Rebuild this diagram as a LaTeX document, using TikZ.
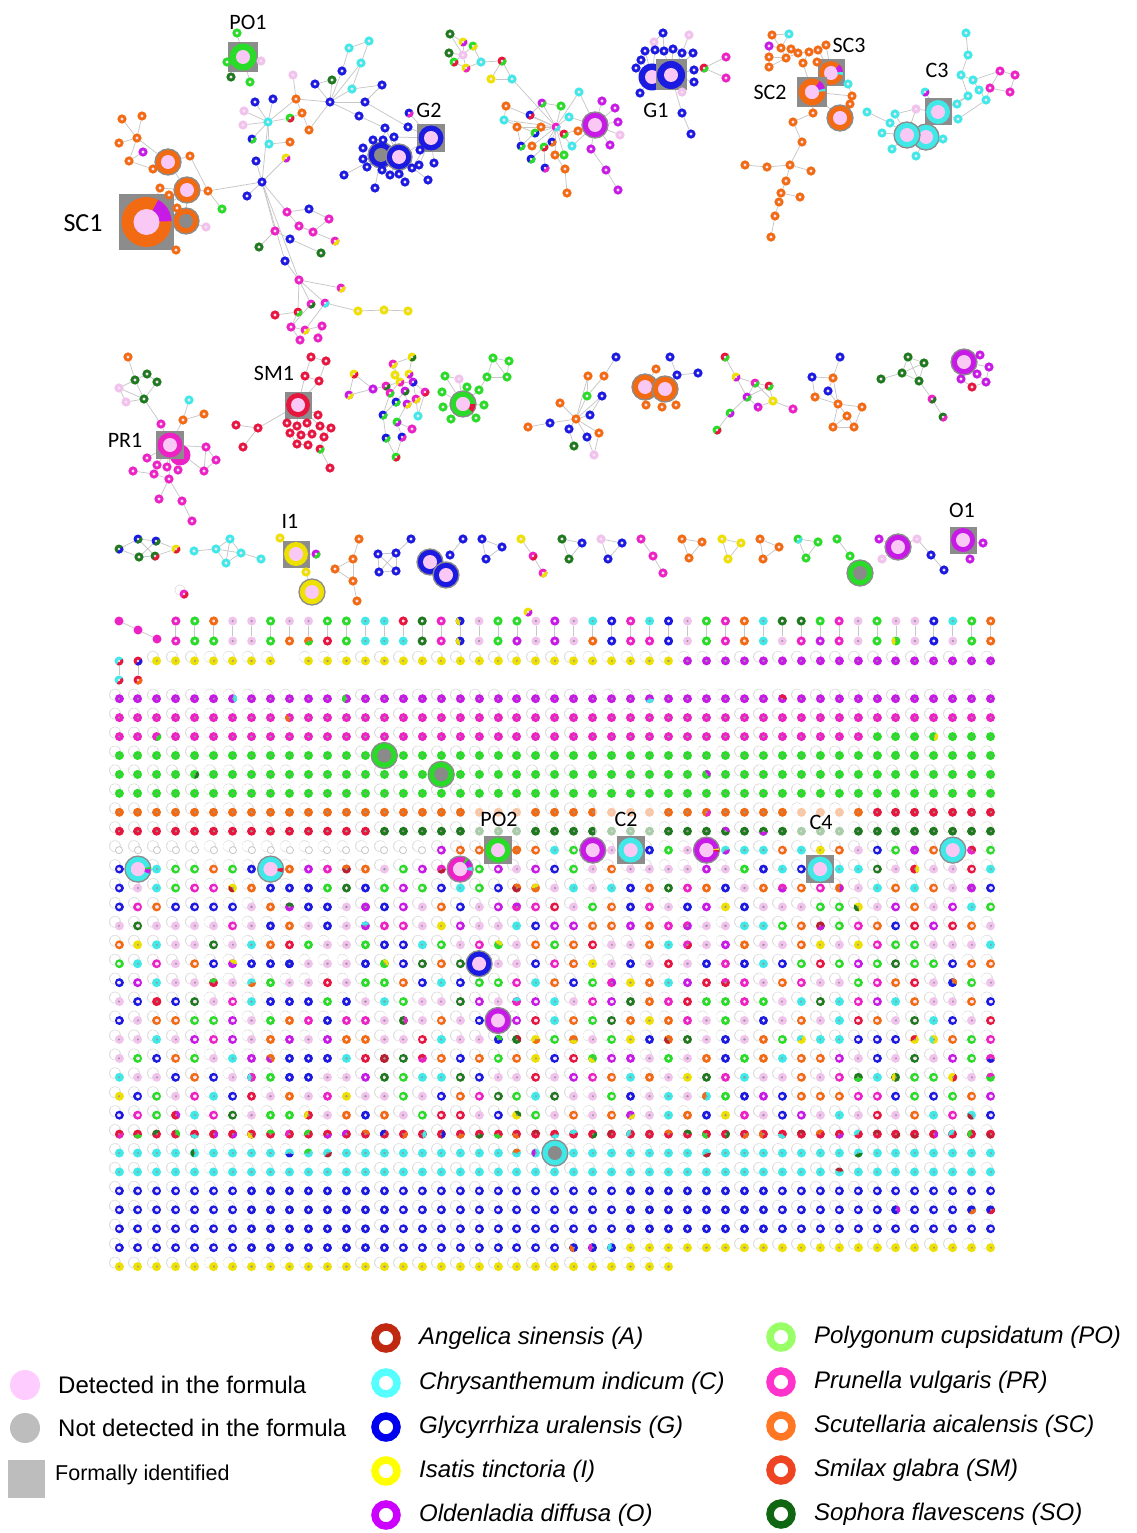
\documentclass[tikz,border=0pt]{standalone}
\usepackage{fontspec}
\setmainfont{Liberation Sans}
\newfontfamily\labfont{Carlito}
\pgfdeclarelayer{bg}
\pgfdeclarelayer{edges}
\pgfsetlayers{bg,edges,main}
\definecolor{cA}{HTML}{B82030}
\definecolor{cC}{HTML}{40E8E8}
\definecolor{cG}{HTML}{1A1AE0}
\definecolor{cI}{HTML}{EEE000}
\definecolor{cO}{HTML}{C81AE6}
\definecolor{cPO}{HTML}{28DC28}
\definecolor{cPR}{HTML}{EC22C4}
\definecolor{cSC}{HTML}{F26A12}
\definecolor{cSM}{HTML}{E6163E}
\definecolor{cSO}{HTML}{1F7A1F}
\definecolor{cPL}{HTML}{F0C2EC}
\definecolor{cCen}{HTML}{F9E2F6}
\definecolor{cPk}{HTML}{F9C8F4}
\definecolor{cGc}{HTML}{8A8A8A}
\definecolor{cSq}{HTML}{8C8C8C}
\definecolor{cLoop}{HTML}{DEDEDE}
\definecolor{cGd}{HTML}{999999}
\definecolor{lA}{HTML}{C0280F}
\definecolor{lC}{HTML}{55FFFF}
\definecolor{lG}{HTML}{0000EE}
\definecolor{lI}{HTML}{FFFF00}
\definecolor{lO}{HTML}{CC00FF}
\definecolor{lPO}{HTML}{99FF66}
\definecolor{lPR}{HTML}{FF33CC}
\definecolor{lSC}{HTML}{FF7722}
\definecolor{lSM}{HTML}{EE4422}
\definecolor{lSO}{HTML}{116611}
\definecolor{lPk}{HTML}{FFCCFF}
\definecolor{lGr}{HTML}{BDBDBD}
\tikzset{
 edge/.style={draw=black!22, line width=0.75},
 ringn/.style={circle, draw=#1, line width=2.8, fill=cCen, minimum size=6.2, inner sep=0},
 discn/.style={circle, fill=#1, minimum size=9, inner sep=0},
 bigst/.style={circle, fill=#1, draw=black!45, line width=1.3, minimum size=26, inner sep=0},
 lab/.style={inner sep=0, font=\labfont\fontsize{22}{26}\selectfont},
 gridlab/.style={fill=white, fill opacity=0.62, text opacity=1, minimum width=62, minimum height=34, inner sep=0, font=\labfont\fontsize{22}{26}\selectfont},
 legtext/.style={anchor=west, inner sep=0, font=\fontsize{24}{28}\selectfont},
 legit/.style={anchor=west, inner sep=0, font=\itshape\fontsize{24}{28}\selectfont},
 legring/.style={circle, draw=#1, line width=7.5, minimum size=22, inner sep=0},
}
% ---------- helpers ----------
\newcommand\randcol{\pgfmathrandominteger{\rnd}{1}{10}%
 \edef\gcb{\ifcase\rnd\or cG\or cPO\or cSC\or cPR\or cO\or cC\or cSM\or cSO\or cI\or cA\fi}%
 \pgfmathrandominteger{\ga}{0}{359}}
\newcommand\sorted[1]{\def\gk{1}\def\gcol{#1}\pgfmathrandominteger{\rnd}{1}{100}\ifnum\rnd<5 \def\gk{2}\randcol\fi}
\newcommand\sortedring[1]{\def\gk{0}\def\gcol{#1}\pgfmathrandominteger{\rnd}{1}{100}\ifnum\rnd<5 \def\gk{2}\randcol\fi}
\newcommand\sortedp[2]{\def\gk{1}\def\gcol{#1}\pgfmathrandominteger{\rnd}{1}{100}\ifnum\rnd<#2 \def\gk{2}\randcol\fi}
\newcommand\pickpie[1]{\def\gk{2}\def\gcol{#1}\randcol}
\newcommand\pickmix{\pgfmathrandominteger{\rmix}{1}{100}%
 \def\gk{2}\randcol\let\gcol\gcb\randcol
 \ifnum\rmix<93 \def\gk{1}\def\gcol{cI}\fi
 \ifnum\rmix<91 \def\gk{0}\def\gcol{cSO}\fi
 \ifnum\rmix<87 \def\gk{0}\def\gcol{cSM}\fi
 \ifnum\rmix<83 \def\gk{1}\def\gcol{cC}\fi
 \ifnum\rmix<74 \def\gk{0}\def\gcol{cO}\fi
 \ifnum\rmix<66 \def\gk{0}\def\gcol{cPR}\fi
 \ifnum\rmix<58 \def\gk{0}\def\gcol{cSC}\fi
 \ifnum\rmix<47 \def\gk{0}\def\gcol{cPO}\fi
 \ifnum\rmix<36 \def\gk{0}\def\gcol{cG}\fi
 \ifnum\rmix<24 \def\gk{1}\def\gcol{cPL}\fi}
\newcommand\cellrule{%
 \def\gk{9}%
 \ifnum\gr=-2
   \ifnum\gc<2 \else
     \ifnum\gc=9 \else
       \ifnum\gc<30 \sorted{cI}\else\sorted{cO}\fi
     \fi
   \fi
 \fi
 \ifnum\gr=0 \sorted{cO}\fi
 \ifnum\gr=1 \sorted{cPR}\fi
 \ifnum\gr=2 \ifnum\gc<40 \sorted{cPR}\else\sorted{cPO}\fi\fi
 \ifnum\gr>2 \ifnum\gr<6 \sorted{cPO}\fi\fi
 \ifnum\gr=6 \ifnum\gc<40 \sorted{cSC}\else\sorted{cSM}\fi\fi
 \ifnum\gr=7 \ifnum\gc<14 \sorted{cSM}\else\sorted{cSO}\fi\fi
 \ifnum\gr=8 \ifnum\gc<17 \def\gk{3}\else\pickmix\fi\fi
 \ifnum\gr>8 \ifnum\gr<23 \pickmix\fi\fi
 \ifnum\gr=23 \pickpie{cSM}\fi
 \ifnum\gr=24 \sortedp{cC}{25}\fi
 \ifnum\gr=25 \sortedp{cC}{10}\fi
 \ifnum\gr>25 \ifnum\gr<29 \sortedring{cG}\fi\fi
 \ifnum\gr=29 \ifnum\gc<24 \sortedring{cG}\else\ifnum\gc<27 \pickpie{cG}\else\sorted{cI}\fi\fi\fi
 \ifnum\gr=30 \ifnum\gc<30 \sorted{cI}\fi\fi}
% grid cell drawn as dots (round caps)
\newcommand\gcell[4]{%
 \draw[line width=11.8, draw=cLoop] ({#1-4},{#2-4}) -- ++(0,0.01);
 \draw[line width=10.6, draw=white] ({#1-4},{#2-4}) -- ++(0,0.01);
 \ifnum#3=3
   \draw[line width=8, draw=black!22] (#1,#2) -- ++(0,0.01);
   \draw[line width=6, draw=white] (#1,#2) -- ++(0,0.01);
 \else
   \draw[line width=9, draw=#4] (#1,#2) -- ++(0,0.01);
   \ifnum#3=2 \fill[\gcb] (#1,#2) -- ++(\ga:4.5) arc[start angle=\ga, delta angle=140, radius=4.5] -- cycle;\fi
   \ifnum#3=0 \draw[line width=3.6, draw=cCen] (#1,#2) -- ++(0,0.01);
   \else \draw[line width=2.4, draw=cGd] (#1,#2) -- ++(0,0.01);\fi
 \fi}
\newcommand\pnode[3]{%
 \ifnum\gk=0 \node[ringn=\gcol] (#1) at (#2,#3) {};\fi
 \ifnum\gk=1 \node[discn=\gcol] (#1) at (#2,#3) {}; \fill[cGd] (#2,#3) circle (1.2);\fi
 \ifnum\gk=2 \node[discn=\gcol] (#1) at (#2,#3) {};
   \fill[\gcb] (#2,#3) -- ++(\ga:4.5) arc[start angle=\ga, delta angle=140, radius=4.5] -- cycle;
   \fill[cGd] (#2,#3) circle (1.2);\fi}
\newcommand\mkrings[1]{\foreach \n/\x/\y/\cl in {#1}{\node[ringn=\cl] (\n) at (\x,\y) {};}}
\newcommand\mkpies[1]{\foreach \n/\x/\y/\cl/\cm in {#1}{\node[discn=\cl] (\n) at (\x,\y) {};
  \fill[\cm] (\x,\y) -- ++(-30:4.5) arc[start angle=-30,delta angle=150,radius=4.5] -- cycle;
  \fill[cCen] (\x,\y) circle (1.4);}}
\newcommand\mkedges[1]{\begin{pgfonlayer}{edges}\foreach \u/\v in {#1}{\draw[edge] (\u) -- (\v);}\end{pgfonlayer}}
\newcommand\bignode[4]{\node[bigst=#3] (#1) at #2 {}; \fill[#4] (#1.center) circle (7);}
\newcommand\sqnode[5]{\node[fill=cSq, minimum size=#3, inner sep=0] (#1s) at #2 {};
  \node[circle, fill=#4, minimum size={#3-3}, inner sep=0] (#1) at #2 {};
  \fill[#5] (#1.center) circle (7);}
\newcommand\mkwedge[5]{\fill[#5] (#1.center) -- ++(#3:#2) arc[start angle=#3, end angle=#4, radius=#2] -- cycle;}
\begin{document}
\begin{tikzpicture}[x=1pt,y=-1pt,line cap=round]
\begin{pgfonlayer}{bg}\fill[white] (0,0) rectangle (1136,1533);\end{pgfonlayer}
\useasboundingbox (0,0) rectangle (1136,1533);
% ================= GRID =================
\pgfmathsetseed{4242}
\foreach \gr in {-2,...,30}{
 \foreach \gc in {0,...,46}{
  \cellrule
  \ifnum\gk<9
   \pgfmathsetmacro\gx{119+18.95*\gc}
   \pgfmathsetmacro\gy{698.7+18.93*(\gr)}
   \gcell{\gx}{\gy}{\gk}{\gcol}\fi
 }}
\foreach \gc in {3,...,46}{
  \pgfmathsetmacro\gx{119+18.95*\gc}
  \pickmix
  \pnode{gt\gc}{\gx}{621}
  \pgfmathrandominteger{\rkeep}{1}{100}
  \ifnum\rkeep>55 \pickmix\fi
  \pnode{gb\gc}{\gx}{641}
  \begin{pgfonlayer}{edges}\draw[edge] (gt\gc) -- (gb\gc);\end{pgfonlayer}
}
\node[discn=cPR] (gd1) at (119,621) {};
\node[discn=cPR] (gd2) at (138,630) {};
\node[discn=cPR] (gd3) at (157,639) {};
\mkpies{gp1/119/661/cC/cSM, gp2/138/661/cSM/cG, gp3/119/680/cC/cSM, gp4/138/680/cSM/cSC}
\mkedges{gd1/gd2, gd2/gd3, gp1/gp3, gp2/gp4}
% grid big nodes
\bignode{bgA}{(384.3,755.5)}{cPO}{cGc}
\bignode{bgB}{(441.15,774.4)}{cPO}{cGc}
\bignode{bgC}{(460.1,869.1)}{cPR}{cPk}
\mkwedge{bgC}{12.4}{-50}{-20}{cO}\mkwedge{bgC}{12.4}{-62}{-50}{cPO}\mkwedge{bgC}{12.4}{-10}{8}{cC}
\fill[cPk] (bgC.center) circle (7);
\bignode{bgD}{(592.75,850.1)}{cO}{cPk}
\bignode{bgE}{(706.45,850.1)}{cO}{cPk}
\mkwedge{bgE}{12.4}{-8}{0}{cI}\mkwedge{bgE}{12.4}{0}{8}{cSM}
\fill[cPk] (bgE.center) circle (7);
\bignode{bgF}{(952.8,850.1)}{cC}{cPk}
\bignode{bgG}{(137.95,869.1)}{cC}{cPk}
\mkwedge{bgG}{12.4}{0}{22}{cO}\mkwedge{bgG}{12.4}{-10}{0}{cPO}
\fill[cPk] (bgG.center) circle (7);
\bignode{bgH}{(270.6,869.1)}{cC}{cPk}
\mkwedge{bgH}{12.4}{-5}{15}{cSM}
\fill[cPk] (bgH.center) circle (7);
\bignode{bgI}{(479.05,963.7)}{cG}{cPk}
\bignode{bgJ}{(498,1020.5)}{cO}{cPk}
\bignode{bgK}{(554.85,1153)}{cC}{cGc}
\sqnode{PO2}{(498,850.1)}{28}{cPO}{cPk}
\sqnode{C2}{(630.65,850.1)}{28}{cC}{cPk}
\sqnode{C4}{(820.15,869.1)}{28}{cC}{cPk}
\node[gridlab] (lbPO2) at (499,819) {PO2};
\node[gridlab] (lbC2) at (626,819) {C2};
\node[gridlab] (lbC4) at (821,822) {C4};
% ================= CLUSTER A (top left) =================
\node[fill=cSq, minimum size=55, inner sep=0] (SC1s) at (146.5,222) {};
\node[circle, fill=cSC, minimum size=50, inner sep=0] (SC1) at (146.5,222) {};
\mkwedge{SC1}{25}{-62}{-2}{cO}
\fill[cPk] (SC1.center) circle (13);
\bignode{b1}{(168,162)}{cSC}{cPk}
\bignode{b2}{(187,190)}{cSC}{cPk}
\bignode{b3}{(186,221)}{cSC}{cGc}
\sqnode{PO1}{(243,57)}{30}{cPO}{cPk}
\bignode{g1}{(381,155)}{cG}{cGc}
\bignode{g2}{(399,157)}{cG}{cPk}
\sqnode{G2}{(431,138)}{28}{cG}{cPk}
\mkrings{a1/262/182/cG, a2/268/122/cC, a3/330/102/cG, a4/296/99/cSC, a5/273/99/cG, a6/255/102/cG, a7/244/111/cPL, a8/243/125/cPL, a10/269/144/cC, a11/290/142/cSC, a13/256/161/cG, a15/302/113/cSC, a16/309/130/cSC, a17/293/75/cPL, a18/315/84/cG, a19/332/80/cSO, a20/342/71/cG, a21/349/48/cC, a22/369/41/cC, a23/361/63/cC, a24/352/89/cC, a25/382/85/cG, a26/365/102/cG, a27/359/116/cG, a28/385/128/cG, a29/408/127/cG, a31/247/196/cG, a32/208/191/cSC, a33/222/209/cPO, a34/206/227/cPL, a35/176/250/cSC, a36/122/119/cSC, a37/142/116/cSC, a38/137/138/cSC, a39/119/143/cSC, a40/143/152/cO, a41/129/161/cSC, a42/153/169/cSC, a43/190/156/cSC, a44/160/188/cSC, a45/169/195/cSC, a49/177/208/cSC, a50/287/212/cPR, a51/309/209/cG, a52/299/226/cPR, a53/313/232/cPR, a54/329/219/cPR, a55/275/231/cPR, a56/290/239/cG, a58/259/247/cSO, a59/321/253/cSO, a60/285/261/cG, a61/299/280/cPR, a66/275/315/cSM, a67/358/311/cI, a68/384/310/cI, a69/408/311/cI, a70/291/327/cPR, a72/322/326/cPR, a73/300/340/cPR, a74/318/338/cPR,
 p1/237/33/cPO, p2/227/62/cPO, p3/231/77/cSO, p4/250/82/cPO, p5/261/61/cPL,
 q1/373/140/cG, q2/363/148/cG, q3/363/159/cG, q4/367/167/cG, q5/344/175/cG, q6/375/188/cG, q7/382/170/cG, q8/390/175/cG, q9/399/174/cG, q10/405/182/cG, q11/412/168/cG, q12/419/165/cG, q13/428/180/cG, q14/434/163/cG, q15/420/150/cG, q16/394/137/cG, q17/383/140/cG}
\mkpies{a9/252/139/cG/cPO, a12/286/158/cI/cO, a14/290/118/cPO/cSM, a30/409/113/cG/cPR, a57/335/241/cPR/cI, a62/341/288/cPR/cI, a63/325/303/cPR/cC, a64/311/304/cPR/cSO, a65/298/312/cSM/cPO, a71/305/330/cPR/cI}
\mkedges{a1/a2, a1/a12, a1/a13, a1/a31, a1/a32, a1/a50, a1/a55, a1/a60, a1/a61, a2/a5, a2/a6, a2/a7, a2/a8, a2/a9, a2/a10, a2/a14, a2/a4, a4/a3, a4/a17, a4/a15, a15/a16, a14/a15, a10/a11, a3/a18, a3/a19, a3/a20, a3/a23, a3/a24, a3/a26, a3/a27, a3/a16, a20/a21, a21/a22, a22/a23, a23/a24, a24/a25, a25/a26, a26/a29, a27/a28, a28/g1, a29/G2, a30/G2, a18/a19, p1/PO1, p2/PO1, p3/PO1, p4/PO1, p5/PO1, a32/b2, a32/a33, a32/a43, a36/a38, a37/a38, a39/a38, a38/a41, a38/b1, a40/a41, a41/a42, a42/b1, a43/b1, a44/b2, a45/b2, a49/b3, a35/SC1, a34/b3, a44/SC1, b2/b3, b3/SC1, b1/b2, b2/SC1, a50/a51, a50/a52, a51/a54, a52/a53, a52/a57, a53/a54, a55/a58, a55/a56, a56/a59, a60/a61, a61/a62, a61/a63, a61/a64, a61/a65, a65/a66, a63/a67, a67/a68, a68/a69, a64/a70, a70/a71, a71/a72, a72/a74, a70/a73, a65/a70, a63/a71, q1/g1, q2/g1, q3/g1, q4/g1, q5/g1, q6/g1, q7/g1, q8/g2, q9/g2, q10/g2, q11/g2, q12/G2, q13/g2, q14/G2, q15/G2, q16/g2, q17/g1, g1/g2, g2/G2, q16/G2, q11/G2, a28/g2}
% ================= CLUSTER B (top centre) =================
\bignode{ob1}{(595,125)}{cO}{cPk}
\mkrings{c1/450/34/cSO, c2/449/53/cSO, c5/463/55/cPL, c8/481/62/cC, c10/491/79/cI, c11/512/79/cC, c12/506/106/cSC, c13/504/120/cC, c14/517/127/cSC, c17/561/106/cPO, c18/541/127/cSC, c21/579/92/cC, c22/569/117/cC, c23/578/131/cSC, c26/532/146/cSC, c29/555/155/cSC, c30/564/155/cPO, c31/572/146/cC, c34/565/169/cSC, c35/567/193/cSC, c36/602/101/cO, c37/615/108/cO, c38/618/122/cO, c39/620/135/cPL, c40/610/145/cO, c41/591/149/cO, c42/606/170/cO, c43/618/190/cO}
\mkpies{c3/463/42/cI/cO, c4/473/46/cPO/cI, c6/454/62/cPO/cSM, c7/466/68/cI/cPR, c9/502/61/cSM/cPO, c15/530/115/cG/cSM, c16/542/103/cO/cPO, c19/556/127/cPR/cC, c20/564/134/cSM/cPO, c24/535/133/cPO/cG, c25/521/146/cG/cPO, c27/544/147/cPO/cSM, c28/552/142/cG/cSC, c32/531/159/cG/cPO, c33/545/168/cG/cPR}
\mkedges{c1/c3, c1/c5, c2/c5, c2/c6, c3/c4, c3/c5, c4/c5, c4/c8, c5/c6, c5/c7, c6/c7, c7/c8, c8/c9, c9/c10, c9/c11, c10/c11, c11/c19, c12/c19, c13/c19, c14/c19, c15/c19, c16/c19, c17/c19, c18/c19, c20/c19, c21/c19, c22/c19, c24/c19, c25/c18, c26/c19, c27/c19, c28/c19, c29/c19, c30/c19, c31/c19, c32/c27, c33/c27, c34/c29, c35/c34, c12/c13, c14/c25, c16/c17, c20/ob1, c22/ob1, c23/ob1, c31/ob1, c21/ob1, ob1/c36, ob1/c37, ob1/c38, ob1/c39, ob1/c40, ob1/c41, c41/c42, c42/c43, c13/c24, c15/c16}
% ================= CLUSTER G1 =================
\node[circle, fill=cG, minimum size=27, inner sep=0] (gl) at (652,77) {};
\fill[cPk] (gl.center) circle (7);
\sqnode{G1}{(671,75)}{31}{cG}{cPk}
\mkrings{d1/663/33/cG, d2/689/35/cPL, d3/654/42/cPL, d4/645/51/cG, d5/655/50/cG, d6/664/51/cG, d7/673/49/cG, d8/682/53/cG, d9/641/60/cG, d10/693/53/cG, d11/636/68/cG, d12/694/70/cG, d14/726/57/cPR, d15/726/78/cPR, d16/694/82/cG, d17/640/93/cG, d18/682/92/cPL, d19/682/113/cG, d20/691/134/cG}
\mkpies{d13/704/68/cSM/cPO}
\mkedges{d1/d6, d1/d3, d2/d8, d3/d5, d4/gl, d5/gl, d6/G1, d7/G1, d8/G1, d9/gl, d10/G1, d11/gl, d12/G1, d13/G1, d13/d14, d13/d15, d16/G1, d17/gl, d18/G1, d19/G1, d19/d20, d4/d9, gl/G1, d7/d10}
% ================= CLUSTER SC2/SC3 =================
\sqnode{SC3}{(831,73)}{27}{cSC}{cPk}
\mkwedge{SC3}{12}{-45}{-5}{cO}\mkwedge{SC3}{12}{-5}{10}{cC}
\fill[cPk] (SC3.center) circle (6.5);
\sqnode{SC2}{(812,92)}{30}{cSC}{cPk}
\mkwedge{SC2}{13.5}{-55}{-15}{cO}\mkwedge{SC2}{13.5}{-15}{-3}{cC}
\fill[cPk] (SC2.center) circle (7);
\bignode{sbig}{(840,118)}{cSC}{cPk}
\mkrings{e1/772/35/cSC, e2/789/34/cC, e3/769/46/cO, e4/781/48/cSC, e5/791/49/cSC, e6/769/57/cSC, e7/786/58/cSC, e8/798/53/cSC, e9/809/52/cSC, e10/818/50/cSC, e11/826/45/cSC, e12/769/67/cSC, e13/803/63/cSC, e14/817/62/cSC, e15/848/84/cC, e16/852/96/cSC, e17/850/104/cSC, e18/813/113/cSC, e19/793/122/cSC, e20/802/142/cSC, e21/745/165/cSC, e22/767/167/cSC, e23/790/165/cSC, e24/811/171/cSC, e25/786/181/cSC, e26/781/193/cSC, e27/800/197/cSC, e28/779/202/cSC, e29/775/216/cSC, e30/771/237/cSC}
\mkedges{e1/e4, e2/e4, e3/e4, e4/e7, e5/e7, e6/e7, e3/e6, e7/e8, e8/e9, e9/e10, e10/e11, e12/e7, e13/SC2, e13/e9, e14/SC3, e11/SC3, SC3/SC2, SC3/e15, e15/e16, SC2/e16, e16/e17, e17/sbig, SC2/sbig, SC2/e18, e18/e19, e19/e20, e20/e23, e21/e22, e22/e23, e23/e24, e23/e25, e25/e26, e26/e27, e26/e28, e28/e29, e29/e30, SC3/e10, e6/e12, e1/e2}
% ================= CLUSTER C3 =================
\bignode{cb2}{(926,137)}{cC}{cPk}
\bignode{cb1}{(907,135)}{cC}{cPk}
\sqnode{C3}{(938,112)}{27}{cC}{cPk}
\mkrings{f1/966/33/cC, f2/968/55/cC, f3/961/75/cC, f4/973/80/cC, f6/986/100/cC, f7/968/96/cC, f8/957/104/cC, f9/958/119/cC, f10/979/90/cC, f12/916/109/cPL, f13/890/123/cC, f14/895/114/cC, f15/882/133/cC, f16/867/112/cC, f17/892/149/cC, f18/916/156/cC, f19/943/139/cC, f20/1000/71/cPR, f21/1015/75/cPR, f22/990/88/cPR, f23/1010/92/cPR}
\mkpies{f11/925/92/cC/cO}
\mkedges{f1/f2, f2/f3, f3/f4, f3/f7, f4/f10, f10/f6, f4/f20, f7/f8, f7/C3, f8/C3, f9/C3, f6/f9, f20/f21, f20/f22, f21/f23, f22/f23, f6/f22, f11/C3, f12/C3, f12/cb1, f13/cb1, f14/cb1, f15/cb1, f16/f13, f17/cb1, f18/cb2, f19/cb2, cb1/cb2, cb2/C3, f14/f12}
% ================= ROW 2 =================
\mkrings{h1/128/357/cSC, h2/119/388/cPL, h3/135/380/cSO, h4/147/374/cSO, h5/157/382/cSO, h6/144/399/cSO, h7/126/402/cPL}
\mkedges{h1/h3, h2/h3, h2/h6, h3/h4, h3/h6, h4/h5, h5/h6, h7/h6, h2/h7}
\node[circle, fill=cPR, minimum size=21, inner sep=0] (pbig) at (180,455) {};
\sqnode{PR1}{(170,445)}{28}{cPR}{cPk}
\mkrings{r1/161/424/cPR, r2/183/420/cSC, r3/189/400/cC, r4/204/414/cSC, r5/206/447/cPR, r6/216/460/cPR, r7/204/471/cPR, r8/147/458/cPR, r9/157/465/cPR, r10/133/471/cPR, r11/154/474/cPR, r12/167/467/cPR, r13/178/470/cPR, r14/169/479/cPR, r15/159/499/cPR, r16/182/501/cPR, r17/192/521/cPR}
\mkedges{h6/r1, r1/PR1, r2/r3, r2/r4, r2/PR1, r5/PR1, r6/r5, r7/r5, r7/PR1, r8/PR1, r9/PR1, r10/r11, r11/r14, r12/PR1, r13/PR1, r14/PR1, r14/r15, r14/r16, r16/r17, r9/r11, r6/r7}
\sqnode{SM1}{(298,405)}{27}{cSM}{cPk}
\mkrings{m1/311/357/cSM, m2/326/361/cSM, m3/305/376/cSM, m4/319/381/cSM, m5/287/423/cSM, m6/297/426/cSM, m7/307/423/cSM, m8/318/415/cSM, m9/320/426/cSM, m10/290/433/cSM, m11/301/435/cSM, m12/312/434/cSM, m13/324/437/cSM, m14/297/444/cSM, m15/308/445/cSM, m16/331/428/cSM, m18/330/468/cSM, m19/258/428/cSM, m20/236/425/cSM, m21/243/447/cSM}
\mkpies{m17/320/449/cSM/cPO}
\mkedges{m1/m3, m2/m4, m1/m2, m3/m4, m3/SM1, m4/SM1, m5/SM1, m6/SM1, m7/SM1, m8/SM1, m9/SM1, m10/m6, m11/m6, m12/m7, m13/m9, m14/m11, m15/m12, m16/m9, m17/m13, m17/m18, m19/SM1, m20/m19, m21/m19, m11/m12, m10/m14, m13/m16, m15/m14}
\mkpies{k1/412/357/cI/cSO, k2/393/364/cPR/cI, k4/409/374/cI/cO, k5/354/374/cI/cSM, k7/349/395/cO/cI, k8/386/386/cPR/cSO, k9/400/382/cI/cPR, k10/413/382/cO/cG, k11/390/393/cPR/cPO, k12/405/391/cO/cSO, k13/416/399/cPR/cI, k14/425/392/cPR/cSM, k15/396/402/cG/cPO, k16/407/404/cO/cI, k17/383/415/cG/cPO, k19/397/422/cPO/cO, k21/386/438/cG/cPO, k22/402/437/cG/cPR, k23/396/457/cPO/cSM}
\mkrings{k3/395/375/cI, k6/373/389/cO, k18/418/416/cC, k20/412/429/cPR}
\mkedges{k1/k2, k1/k4, k2/k3, k3/k9, k4/k10, k5/k7, k5/k6, k7/k6, k6/k8, k8/k9, k9/k10, k9/k11, k9/k12, k10/k13, k10/k14, k11/k15, k12/k16, k13/k18, k14/k18, k15/k17, k16/k19, k11/k17, k17/k21, k19/k20, k19/k22, k21/k23, k22/k23, k12/k15, k8/k11, k2/k9, k16/k13}
\bignode{GB}{(463,404)}{cPO}{cPk}
\mkwedge{GB}{12.4}{0}{40}{cSM}
\fill[cPk] (GB.center) circle (7);
\mkrings{l1/445/376/cPO, l2/459/379/cPL, l3/493/358/cPO, l4/509/361/cPO, l5/487/377/cPO, l6/507/377/cPO, l7/479/390/cPO, l8/467/387/cPO, l9/442/392/cPO, l10/484/405/cPO, l11/443/407/cPO, l12/451/419/cPO, l13/476/418/cPO}
\mkedges{l1/l2, l1/GB, l2/GB, l3/l4, l3/l5, l4/l6, l5/l6, l5/l7, l7/GB, l8/GB, l9/GB, l10/GB, l11/GB, l12/GB, l13/GB, l3/l6}
\mkrings{n1/616/357/cG, n2/588/376/cSC, n3/604/376/cSC, n4/587/396/cPO, n5/602/396/cG, n6/560/403/cSC, n7/576/419/cSC, n8/590/415/cG, n9/550/423/cG, n10/528/427/cSC, n11/569/429/cG, n12/587/437/cG, n13/599/433/cSC, n14/574/446/cSO, n15/594/455/cPL}
\mkedges{n1/n3, n2/n4, n3/n4, n4/n7, n5/n8, n6/n7, n7/n8, n7/n9, n9/n10, n7/n11, n7/n12, n7/n13, n11/n14, n12/n15, n13/n15, n2/n7, n5/n7}
\bignode{ob2}{(645,387)}{cSC}{cPk}
\bignode{ob3}{(665,389)}{cSC}{cPk}
\mkrings{o1/670/357/cG, o2/677/375/cG, o3/698/373/cG, o4/646/405/cSC, o5/662/407/cSC, o6/676/405/cSC, o7/656/369/cSC}
\mkedges{o1/o2, o2/ob3, o3/o2, o4/ob2, o5/ob3, o6/ob3, o7/ob2, ob2/ob3}
\mkpies{t1/725/357/cSM/cPO, t2/736/377/cI/cO, t3/755/383/cPR/cPO, t4/769/386/cSM/cPO, t5/747/397/cO/cPO, t7/758/407/cO/cPR, t9/730/413/cPO/cO, t10/717/430/cPO/cSM}
\mkrings{t6/773/401/cI, t8/793/409/cPR}
\mkedges{t1/t2, t2/t3, t2/t5, t3/t4, t3/t6, t4/t6, t5/t7, t5/t4, t6/t7, t6/t8, t5/t9, t9/t10, t3/t5}
\mkrings{u1/840/357/cG, u2/812/377/cG, u3/833/378/cSC, u4/828/391/cG, u5/815/397/cSC, u6/838/404/cSC, u7/862/407/cSC, u8/847/416/cSC, u9/833/427/cSC, u10/854/427/cSC}
\mkedges{u1/u3, u2/u3, u2/u5, u3/u4, u3/u6, u4/u6, u5/u6, u6/u7, u6/u8, u7/u10, u8/u10, u8/u9, u9/u10, u6/u9}
\mkrings{v1/908/357/cSO, v2/924/363/cSO, v3/881/379/cSO, v4/902/373/cSO, v5/919/381/cSO}
\mkpies{v6/932/399/cPR/cSO, v7/943/417/cSO/cPR}
\mkedges{v1/v2, v1/v4, v1/v5, v2/v5, v2/v4, v3/v4, v4/v5, v5/v6, v6/v7}
\bignode{ob4}{(964,362)}{cO}{cPk}
\mkrings{w1/980/355/cO, w2/989/367/cO, w3/977/374/cO, w4/986/382/cO, w5/972/387/cSM, w6/961/379/cO}
\mkedges{w1/ob4, w2/ob4, w3/ob4, w6/ob4, w2/w4, w3/w4, w4/w5, w5/w6}
% ================= ROW 3 =================
\mkpies{x1/119/549/cSO/cG, x2/138/539/cG/cSO, x3/156/541/cG/cSO, x5/155/556/cSO/cSM, x6/176/549/cI/cSM}
\mkrings{x4/139/557/cSO}
\mkedges{x1/x2, x1/x4, x2/x3, x2/x5, x4/x5, x3/x6, x5/x6, x3/x4}
\mkrings{y1/194/551/cC, y2/216/549/cC, y3/230/539/cC, y4/241/553/cC, y5/226/563/cC, y6/261/559/cC}
\mkedges{y1/y2, y2/y3, y2/y5, y3/y4, y3/y5, y4/y5, y4/y6, y2/y4}
\sqnode{I1}{(296,554)}{27}{cI}{cPk}
\bignode{Ibig}{(312,592)}{cI}{cPk}
\mkrings{z1/280/538/cI, z3/306/572/cI}
\mkpies{z2/316/554/cO/cPO}
\draw[black!14, line width=0.6] (180,590) circle (5.2);
\mkpies{z4/184/594/cPR/cSM}
\mkedges{z1/I1, z2/I1, z3/I1, z3/Ibig}
\mkrings{z5/359/539/cSC, z6/353/559/cSC, z7/335/569/cSC, z8/353/581/cSC, z9/357/601/cSC}
\mkedges{z5/z6, z6/z7, z6/z8, z7/z8, z8/z9}
\mkrings{z10/378/554/cG, z11/396/553/cG, z12/379/572/cG, z13/396/571/cG, z14/411/539/cG}
\mkedges{z10/z11, z10/z12, z11/z13, z12/z13, z10/z13, z11/z12, z11/z14}
\bignode{Gb1}{(430,562)}{cG}{cPk}
\bignode{Gb2}{(446,575)}{cG}{cPk}
\mkrings{z15/450/555/cG, z16/463/539/cG, z17/482/539/cG, z18/502/547/cG, z19/486/559/cG}
\mkedges{Gb1/Gb2, z15/z16, z17/z18, z18/z19, z17/z19}
\mkrings{z20/521/539/cI, z23/562/539/cSO, z24/582/543/cG, z25/569/559/cSO, z26/601/539/cPL, z27/622/543/cG, z28/608/559/cG, z29/641/539/cPR, z30/653/556/cPR, z31/663/573/cPR, z32/682/539/cSC, z33/702/542/cSC, z34/689/558/cSC, z35/722/539/cI, z36/741/543/cI, z37/728/559/cI, z38/760/539/cSC, z39/779/547/cSC, z40/763/559/cSC, z42/818/542/cPO, z43/806/558/cPO, z44/837/539/cPO, z45/850/556/cPO, z46/879/539/cO, z47/917/539/cPL, z48/882/559/cPL, z49/931/555/cG, z50/944/570/cG, z51/983/543/cO, z52/970/559/cO}
\mkpies{z21/533/556/cPR/cSM, z22/543/573/cPR/cI, z41/798/539/cPO/cC, z53/528/612/cI/cO}
\bignode{PObig}{(860,573)}{cPO}{cGc}
\bignode{Obig2}{(898,547)}{cO}{cPk}
\sqnode{O1}{(963,540)}{27}{cO}{cPk}
\mkedges{z20/z21, z21/z22, z23/z24, z23/z25, z24/z25, z26/z27, z26/z28, z27/z28, z29/z30, z30/z31, z32/z33, z32/z34, z33/z34, z35/z36, z35/z37, z36/z37, z38/z39, z38/z40, z39/z40, z41/z42, z41/z43, z42/z43, z44/z45, z45/PObig, z46/Obig2, z48/Obig2, z47/Obig2, z47/z49, z49/z50, z51/O1, z52/O1}
% ================= LABELS =================
\node[lab] (lbPO1) at (248,22) {PO1};
\node[lab] (lbG2) at (429,110) {G2};
\node[lab] (lbG1) at (656,110) {G1};
\node[lab] (lbSC3) at (849,45) {SC3};
\node[lab] (lbSC2) at (770,92) {SC2};
\node[lab] (lbC3) at (937,70) {C3};
\node[lab, font=\labfont\fontsize{26}{30}\selectfont] (lbSC1) at (83,223) {SC1};
\node[lab] (lbSM1) at (274,373) {SM1};
\node[lab] (lbPR1) at (125,440) {PR1};
\node[lab] (lbI1) at (290,521) {I1};
\node[lab] (lbO1) at (962,510) {O1};
% ================= LEGEND =================
\node[circle, fill=lPk, minimum size=30, inner sep=0] (lgD) at (25,1385) {};
\node[legtext] (lgDt) at (58,1385) {Detected in the formula};
\node[circle, fill=lGr, minimum size=30, inner sep=0] (lgN) at (25,1428) {};
\node[legtext] (lgNt) at (58,1428) {Not detected in the formula};
\node[fill=lGr, minimum width=37, minimum height=38, inner sep=0] (lgF) at (26.5,1479) {};
\node[legtext, font=\fontsize{21.5}{25}\selectfont] (lgFt) at (55,1475) {Formally identified};
\foreach \n/\xx/\yy/\cl/\t in {A/386/1338/lA/Angelica sinensis (A), C/386/1383/lC/Chrysanthemum indicum (C), G/386/1427/lG/Glycyrrhiza uralensis (G), I/386/1471/lI/Isatis tinctoria (I), O/386/1515/lO/Oldenladia diffusa (O), PO/781/1337/lPO/Polygonum cupsidatum (PO), PR/781/1382/lPR/Prunella vulgaris (PR), SC/781/1426/lSC/Scutellaria aicalensis (SC), SM/781/1470/lSM/Smilax glabra (SM), SO/781/1514/lSO/Sophora flavescens (SO)}
{\node[legring=\cl] (lr\n) at (\xx,\yy) {}; \node[legit] (lt\n) at (\xx+33,\yy) {\t};}
\end{tikzpicture}
\end{document}
